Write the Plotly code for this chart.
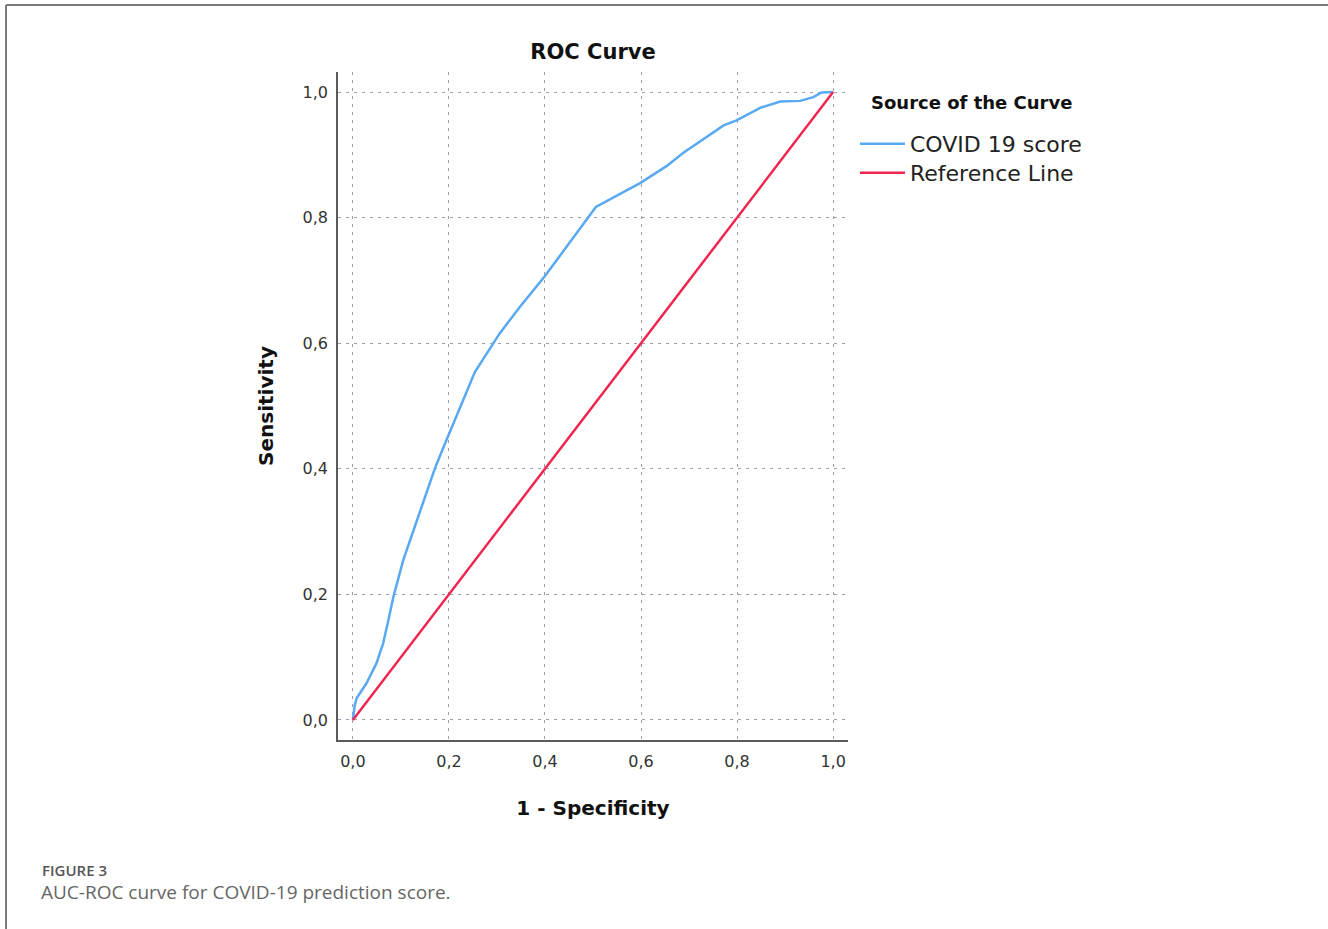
import plotly.graph_objects as go

# ---- data ----
fpr = [0, 0.004, 0.008, 0.028, 0.049, 0.063, 0.074, 0.084, 0.105, 0.133, 0.153,
       0.171, 0.188, 0.2, 0.215, 0.254, 0.306, 0.348, 0.4, 0.506, 0.598, 0.653,
       0.6875, 0.723, 0.772, 0.799, 0.848, 0.89, 0.931, 0.959, 0.976, 1.0]
tpr = [0, 0.024, 0.035, 0.058, 0.09, 0.122, 0.159, 0.195, 0.255, 0.318, 0.361,
       0.401, 0.433, 0.455, 0.483, 0.554, 0.616, 0.658, 0.707, 0.817, 0.855, 0.882,
       0.903, 0.921, 0.947, 0.955, 0.975, 0.985, 0.986, 0.992, 0.9995, 1.0]
ref_x = [0, 1]
ref_y = [0, 1]
tick_vals = [0, 0.2, 0.4, 0.6, 0.8, 1.0]
tick_text = ["0,0", "0,2", "0,4", "0,6", "0,8", "1,0"]

W, H = 1328, 929
L, R, T, B = 338, 480, 72, 189
PW, PH = W - L - R, H - T - B

def px(x):
    return (x - L) / PW

def py(y):
    return (H - B - y) / PH

BLUE = "#58a9f2"
RED = "#ef2750"
CHART_FONT = "DejaVu Sans"

fig = go.Figure()
fig.add_trace(go.Scatter(x=fpr, y=tpr, mode="lines", name="COVID 19 score",
                         line=dict(color=BLUE, width=2.5), legend="legend"))
fig.add_trace(go.Scatter(x=ref_x, y=ref_y, mode="lines", name="Reference Line",
                         line=dict(color=RED, width=2.5), legend="legend2"))

axis_common = dict(
    tickvals=tick_vals, ticktext=tick_text,
    showgrid=True, gridcolor="#a09ca8", gridwidth=1, griddash="3px,5px",
    zeroline=False, showline=True, linecolor="#5a5a5a", linewidth=1.5,
    ticks="", tickfont=dict(family=CHART_FONT, size=16, color="#333333"),
    fixedrange=True,
)

fig.update_xaxes(range=[-0.031, 1.031], ticklabelstandoff=6,
                 title=dict(text="1 - Specificity", standoff=31,
                            font=dict(family=CHART_FONT, size=20, color="#111111", weight="bold")),
                 **axis_common)
fig.update_yaxes(range=[-0.032, 1.032], ticklabelstandoff=5,
                 title=dict(text="Sensitivity", standoff=24,
                            font=dict(family=CHART_FONT, size=20, color="#111111", weight="bold")),
                 **axis_common)

legend_common = dict(
    xanchor="left", yanchor="top", bgcolor="rgba(0,0,0,0)",
    font=dict(family=CHART_FONT, size=22, color="#222222"), itemwidth=45,
)

fig.update_layout(
    width=W, height=H,
    margin=dict(l=L, r=R, t=T, b=B),
    paper_bgcolor="white", plot_bgcolor="white",
    title=dict(text="ROC Curve", xref="container", x=593 / W, xanchor="center",
               yref="container", y=1 - 52 / H, yanchor="middle",
               font=dict(family=CHART_FONT, size=21, color="#111111", weight="bold")),
    showlegend=True,
    legend=dict(x=px(855), y=py(123), **legend_common),
    legend2=dict(x=px(855), y=py(152), **legend_common),
    shapes=[
        dict(type="line", xref="paper", yref="paper", x0=px(6), x1=px(W + 5), y0=py(5), y1=py(5),
             line=dict(color="#7a7a7a", width=2)),
        dict(type="line", xref="paper", yref="paper", x0=px(6), x1=px(6), y0=py(5), y1=py(H + 5),
             line=dict(color="#7a7a7a", width=2)),
    ],
    annotations=[
        dict(text="<b>Source of the Curve</b>", xref="paper", yref="paper", x=px(869), y=py(103),
             xanchor="left", yanchor="middle", showarrow=False,
             font=dict(family=CHART_FONT, size=18, color="#111111")),
        dict(text="FIGURE 3", xref="paper", yref="paper", x=px(40), y=py(870),
             xanchor="left", yanchor="middle", showarrow=False,
             font=dict(family="Open Sans", size=15, color="#555555", weight=600)),
        dict(text="AUC-ROC curve for COVID-19 prediction score.", xref="paper", yref="paper",
             x=px(39), y=py(892), xanchor="left", yanchor="middle", showarrow=False,
             font=dict(family="Open Sans", size=19, color="#666666")),
    ],
)

fig.write_html("out.html", config={"displayModeBar": False},
               post_script="document.body.style.margin='0';")
